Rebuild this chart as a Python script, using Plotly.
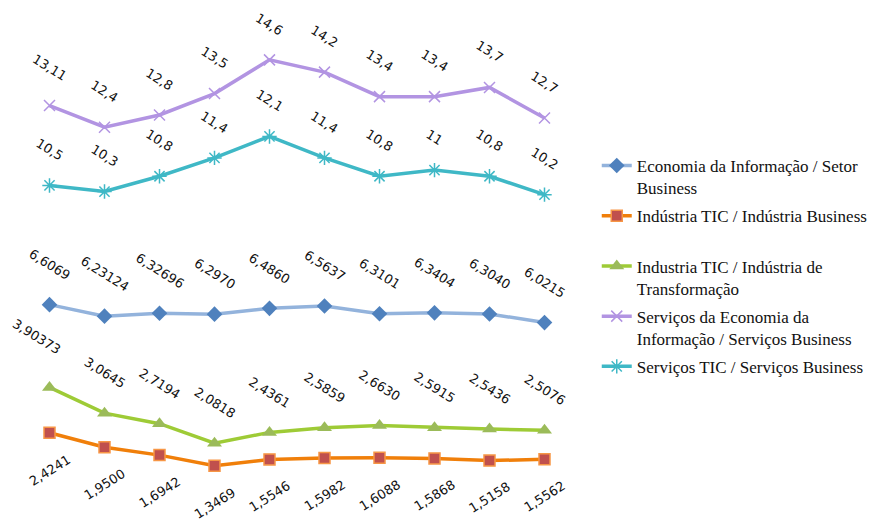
import plotly.graph_objects as go

categories = [str(i) for i in range(1, 11)]

series_names = [
    "Economia da Informação / Setor<br>Business",
    "Indústria TIC / Indústria Business<br> ",
    "Industria TIC / Indústria de<br>Transformação",
    "Serviços da Economia da<br>Informação / Serviços Business",
    "Serviços TIC / Serviços Business<br> ",
]

economia = [6.6069, 6.23124, 6.32696, 6.2970, 6.4860, 6.5637, 6.3101, 6.3404, 6.3040, 6.0215]
economia_lbl = ["6,6069", "6,23124", "6,32696", "6,2970", "6,4860", "6,5637", "6,3101", "6,3404", "6,3040", "6,0215"]

ind_business = [2.4241, 1.9500, 1.6942, 1.3469, 1.5546, 1.5982, 1.6088, 1.5868, 1.5158, 1.5562]
ind_business_lbl = ["2,4241", "1,9500", "1,6942", "1,3469", "1,5546", "1,5982", "1,6088", "1,5868", "1,5158", "1,5562"]

ind_transf = [3.90373, 3.0645, 2.7194, 2.0818, 2.4361, 2.5859, 2.6630, 2.5915, 2.5436, 2.5076]
ind_transf_lbl = ["3,90373", "3,0645", "2,7194", "2,0818", "2,4361", "2,5859", "2,6630", "2,5915", "2,5436", "2,5076"]

serv_econ = [13.11, 12.4, 12.8, 13.5, 14.6, 14.2, 13.4, 13.4, 13.7, 12.7]
serv_econ_lbl = ["13,11", "12,4", "12,8", "13,5", "14,6", "14,2", "13,4", "13,4", "13,7", "12,7"]

serv_tic = [10.5, 10.3, 10.8, 11.4, 12.1, 11.4, 10.8, 11.0, 10.8, 10.2]
serv_tic_lbl = ["10,5", "10,3", "10,8", "11,4", "12,1", "11,4", "10,8", "11", "10,8", "10,2"]

styles = [
    dict(line="#93B3DC", marker=dict(symbol="diamond", size=12, color="#4F81BD", line=dict(width=0))),
    dict(line="#F07F0A", marker=dict(symbol="square", size=11, color="#C0504D", line=dict(color="#F79646", width=1.5))),
    dict(line="#9ECB36", marker=dict(symbol="triangle-up", size=13, color="#9BBB59", line=dict(width=0))),
    dict(line="#B294E2", marker=dict(symbol="x-thin", size=11, color="#B294E2", line=dict(color="#B294E2", width=1.5))),
    dict(line="#3FB8C6", marker=dict(symbol="asterisk", size=12, color="#3FB8C6", line=dict(color="#3FB8C6", width=1.5))),
]

all_vals = [economia, ind_business, ind_transf, serv_econ, serv_tic]
all_lbls = [economia_lbl, ind_business_lbl, ind_transf_lbl, serv_econ_lbl, serv_tic_lbl]

fig = go.Figure()
for i, (name, vals, st) in enumerate(zip(series_names, all_vals, styles)):
    fig.add_trace(go.Scatter(
        x=categories, y=vals, name=name, mode="lines+markers",
        line=dict(color=st["line"], width=3.5),
        marker=st["marker"], legendgroup=f"g{i}",
    ))

annotations = []
for si, (vals, lbls) in enumerate(zip(all_vals, all_lbls)):
    below = (si == 1)
    for j, (v, t) in enumerate(zip(vals, lbls)):
        xs, ys = 0, (-16 if below else 19)
        if si == 2 and j == 0:
            xs, ys = -13, 28
        annotations.append(dict(
            x=j, y=v, text=t, showarrow=False,  # category index on the category axis
            textangle=(-32 if below else 32),
            xanchor="center", yanchor=("top" if below else "bottom"),
            xshift=xs, yshift=ys,
            font=dict(family="DejaVu Sans", size=13, color="#111111"),
        ))

fig.update_layout(
    width=873, height=521,
    margin=dict(l=22, r=301, t=17, b=14, autoexpand=False),
    paper_bgcolor="white", plot_bgcolor="white",
    annotations=annotations,
    showlegend=True,
    legend=dict(
        x=1.045, xanchor="left", y=1.0 - (148 - 17) / 490, yanchor="top",
        font=dict(family="Liberation Serif, DejaVu Serif, serif", size=17, color="#111111"),
        valign="top", tracegroupgap=3, traceorder="grouped",
        bgcolor="rgba(0,0,0,0)",
    ),
    xaxis=dict(type="category", range=[-0.5, 9.5], showgrid=False, zeroline=False, showline=False,
               showticklabels=False, ticks="", fixedrange=True),
    yaxis=dict(range=[0, 16], showgrid=False, zeroline=False, showline=False,
               showticklabels=False, ticks="", fixedrange=True),
)

fig.write_html("out.html")
